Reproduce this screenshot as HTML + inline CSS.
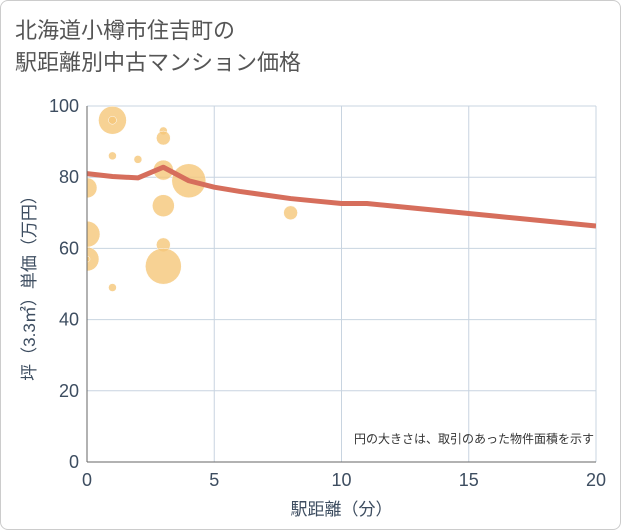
<!DOCTYPE html>
<html><head><meta charset="utf-8"><style>
body{margin:0;background:#fff;font-family:"Liberation Sans","Noto Sans CJK JP",sans-serif;}
#wrap{position:relative;width:619px;height:528px;border:1px solid #ccc;border-radius:8px;background:#fff;overflow:hidden}
#title{position:absolute;left:14px;top:14px;font-size:22px;line-height:32px;color:#555;}
</style></head><body>
<div id="wrap">
<div id="title">北海道小樽市住吉町の<br>駅距離別中古マンション価格</div>
<svg id="svg" width="621" height="530" style="position:absolute;left:-1px;top:-1px"></svg>
</div>
<script>
const bubbleX=[1,1,1,2,3,3,3,4,0,3,8,0,3,0,0,3,1];
const bubbleY=[96,96,86,85,93,91,82,79,77,72,70,64,61,57,57,55,49];
const bubbleR=[14,4,4,4,4,7,10,17,10,11,7,13,7,12,3,18,4];
const lineX=[0,1,2,3,4,5,6,7,8,9,10,11,12,13,14,15,16,17,18,19,20];
const lineY=[81,80.2,79.8,82.8,79,77.2,76,75,74,73.3,72.6,72.6,71.9,71.2,70.5,69.8,69.1,68.4,67.7,67,66.3];
const xTicks=[0,5,10,15,20];
const yTicks=[0,20,40,60,80,100];
const L=87,R=596,T=106,B=462;
const sx=v=>L+(R-L)*v/20, sy=v=>B-(B-T)*v/100;
const svg=document.getElementById('svg');const NS='http://www.w3.org/2000/svg';
const TC='#3d4d60';
function mk(t,a,p){const e=document.createElementNS(NS,t);for(const k in a)e.setAttribute(k,a[k]);(p||svg).appendChild(e);return e;}
const defs=mk('defs',{});const cp=mk('clipPath',{id:'c'},defs);mk('rect',{x:L,y:T,width:R-L,height:B-T},cp);
xTicks.forEach(t=>{const g=mk('line',{x1:sx(t),x2:sx(t),y1:T,y2:B,stroke:'#c8d4e0','stroke-width':1});

const tx=mk('text',{x:sx(t),y:B+24,'text-anchor':'middle','font-size':18,fill:TC});tx.textContent=t;
});
yTicks.forEach(t=>{const g=mk('line',{x1:L,x2:R,y1:sy(t),y2:sy(t),stroke:'#c8d4e0','stroke-width':1});

const tx=mk('text',{x:L-8,y:sy(t)+6,'text-anchor':'end','font-size':18,fill:TC});tx.textContent=t;
});
const gb=mk('g',{'clip-path':'url(#c)'});
bubbleX.forEach((x,i)=>{const c=mk('circle',{cx:sx(x),cy:sy(bubbleY[i]),r:bubbleR[i],fill:'#f5c779','fill-opacity':0.8,stroke:'#fff','stroke-width':0.5},gb);
});
const pl=mk('polyline',{points:lineX.map((x,i)=>sx(x)+','+sy(lineY[i])).join(' '),fill:'none',stroke:'#d66e5c','stroke-width':5,'stroke-linejoin':'round'},gb);

const ax=mk('line',{x1:L,x2:L,y1:T,y2:B,stroke:'#666','stroke-width':1});
const ax2=mk('line',{x1:L,x2:R,y1:B,y2:B,stroke:'#666','stroke-width':1});
const xt=mk('text',{x:(L+R)/2,y:515,'text-anchor':'middle','font-size':17,fill:TC});xt.textContent='駅距離（分）';

const yt=mk('text',{x:0,y:0,'text-anchor':'middle','font-size':17,fill:TC,transform:'translate(35,'+((T+B)/2)+') rotate(-90)'});yt.textContent='坪（3.3㎡）単価（万円）';

const nt=mk('text',{x:R-2,y:443,'text-anchor':'end','font-size':12,fill:'#333'});nt.textContent='円の大きさは、取引のあった物件面積を示す';

</script>
</body></html>
